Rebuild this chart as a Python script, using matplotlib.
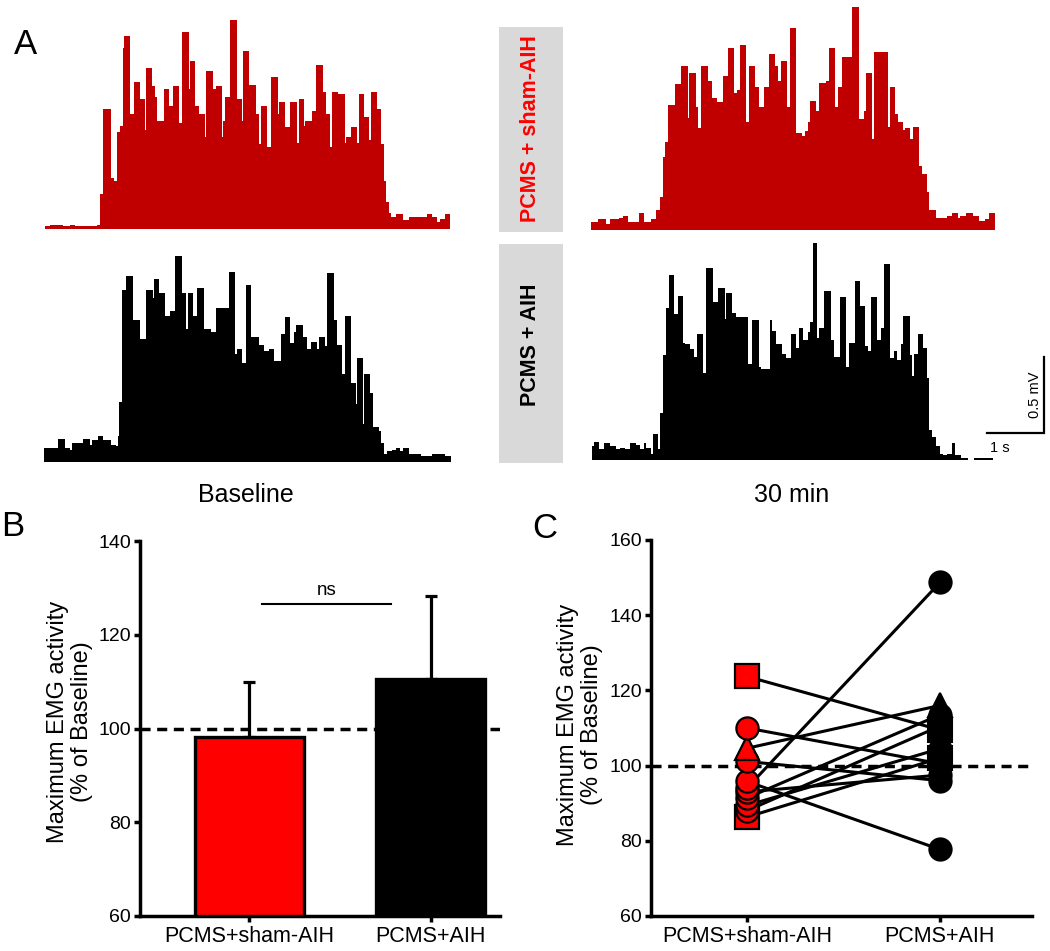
import matplotlib
matplotlib.use("Agg")
import matplotlib.pyplot as plt
from matplotlib.patches import Rectangle

plt.rcParams['font.family'] = ['Liberation Sans', 'DejaVu Sans']

# ---------------- data ----------------
# EMG traces: step edges (s) and bin amplitudes (mV)
sham_base_t = [0, 0.09, 0.32, 0.43, 0.53, 0.91, 0.97, 1.02, 1.15, 1.21, 1.27, 1.32, 1.36, 1.39, 1.49,
               1.56, 1.67, 1.76, 1.78, 1.88, 1.93, 1.97, 2.08, 2.18, 2.24, 2.35, 2.40, 2.52, 2.54, 2.64,
               2.70, 2.81, 2.83, 2.94, 3.00, 3.11, 3.13, 3.16, 3.25, 3.36, 3.45, 3.47, 3.58, 3.70, 3.75,
               3.79, 3.90, 3.97, 4.08, 4.11, 4.21, 4.30, 4.42, 4.45, 4.55, 4.57, 4.68, 4.76, 4.88, 4.93,
               5.00, 5.03, 5.14, 5.27, 5.28, 5.37, 5.47, 5.50, 5.60, 5.69, 5.72, 5.82, 5.89, 5.94, 5.98,
               6.03, 6.07, 6.16, 6.28, 6.39, 6.70, 6.79, 6.87, 6.93, 7.01, 7.11]
sham_base_mv = [0.02, 0.03, 0.02, 0.03, 0.02, 0.03, 0.23, 0.79, 0.34, 0.32, 0.64, 0.68, 1.19, 1.27, 0.76,
                0.97, 0.86, 0.65, 1.06, 0.94, 0.87, 0.71, 0.92, 0.81, 0.94, 0.70, 1.30, 0.92, 1.11, 0.81,
                0.76, 0.61, 1.04, 0.92, 0.94, 0.61, 0.71, 0.87, 1.38, 0.86, 0.71, 1.17, 0.95, 0.76, 0.56,
                0.81, 0.54, 1.00, 0.76, 0.84, 0.67, 0.84, 0.57, 0.86, 0.68, 0.71, 0.78, 1.08, 0.90, 0.76,
                0.54, 0.90, 0.89, 0.57, 0.61, 0.67, 0.57, 0.89, 0.74, 0.59, 0.90, 0.79, 0.56, 0.32, 0.18,
                0.11, 0.08, 0.10, 0.06, 0.08, 0.10, 0.08, 0.05, 0.07, 0.10]

sham_30_t = [0, 0.12, 0.27, 0.34, 0.49, 0.56, 0.66, 0.84, 0.94, 1.05, 1.15, 1.22, 1.26, 1.30, 1.35,
             1.48, 1.59, 1.71, 1.73, 1.84, 1.88, 1.94, 2.05, 2.13, 2.21, 2.32, 2.40, 2.51, 2.57, 2.62,
             2.72, 2.78, 2.89, 2.95, 3.04, 3.12, 3.23, 3.28, 3.33, 3.44, 3.49, 3.61, 3.70, 3.76, 3.81,
             3.85, 3.95, 4.01, 4.12, 4.18, 4.29, 4.33, 4.41, 4.59, 4.71, 4.80, 4.83, 4.93, 4.97, 5.21,
             5.25, 5.34, 5.39, 5.48, 5.52, 5.60, 5.65, 5.76, 5.81, 5.90, 5.94, 6.06, 6.25, 6.34, 6.44,
             6.48, 6.59, 6.70, 6.81, 6.92, 6.99, 7.10]
sham_30_mv = [0.05, 0.07, 0.04, 0.07, 0.08, 0.09, 0.05, 0.11, 0.05, 0.07, 0.13, 0.22, 0.48, 0.58, 0.82,
              0.96, 1.08, 0.74, 1.03, 0.81, 0.67, 1.08, 0.98, 0.87, 0.84, 1.01, 1.20, 0.90, 0.92, 1.22,
              0.71, 1.08, 0.94, 0.81, 0.94, 1.16, 1.08, 0.98, 1.11, 0.81, 1.33, 0.64, 0.62, 0.65, 0.71,
              0.85, 0.78, 0.97, 0.98, 1.20, 0.81, 0.94, 1.14, 1.47, 0.73, 0.78, 1.03, 0.60, 1.17, 0.68,
              0.94, 0.76, 0.71, 0.66, 0.67, 0.60, 0.68, 0.42, 0.37, 0.25, 0.13, 0.08, 0.09, 0.11, 0.08,
              0.09, 0.11, 0.09, 0.06, 0.07, 0.11]

aih_base_t = [0, 0.25, 0.36, 0.46, 0.49, 0.59, 0.68, 0.80, 0.85, 0.94, 1.04, 1.17, 1.26, 1.29, 1.32,
              1.36, 1.44, 1.56, 1.68, 1.79, 1.91, 1.93, 2.02, 2.12, 2.21, 2.29, 2.42, 2.49, 2.52, 2.62,
              2.68, 2.80, 2.93, 3.02, 3.24, 3.35, 3.38, 3.47, 3.54, 3.63, 3.77, 3.86, 3.94, 4.04, 4.15,
              4.23, 4.32, 4.39, 4.42, 4.54, 4.62, 4.68, 4.79, 4.83, 4.93, 4.97, 5.09, 5.14, 5.22, 5.28,
              5.38, 5.48, 5.49, 5.59, 5.62, 5.72, 5.78, 5.87, 5.91, 5.96, 6.01, 6.10, 6.18, 6.24, 6.29,
              6.41, 6.61, 6.80, 7.04, 7.14]
aih_base_mv = [0.09, 0.15, 0.09, 0.08, 0.12, 0.12, 0.15, 0.11, 0.14, 0.17, 0.14, 0.11, 0.10, 0.17, 0.39,
               1.13, 1.22, 0.93, 0.81, 1.13, 1.08, 1.20, 1.11, 0.96, 0.99, 1.35, 1.11, 0.87, 1.11, 0.96,
               1.14, 0.87, 0.85, 1.01, 1.25, 0.71, 0.74, 0.65, 1.16, 0.82, 0.77, 0.73, 0.74, 0.66, 0.84,
               0.95, 0.78, 0.85, 0.90, 0.82, 0.74, 0.79, 0.74, 0.82, 0.76, 1.24, 0.93, 0.77, 0.58, 0.96,
               0.52, 0.38, 0.68, 0.25, 0.58, 0.45, 0.23, 0.20, 0.12, 0.05, 0.07, 0.08, 0.09, 0.07, 0.09,
               0.05, 0.04, 0.05, 0.04]

aih_30_t = [0, 0.04, 0.13, 0.22, 0.32, 0.43, 0.50, 0.59, 0.67, 0.78, 0.85, 0.91, 0.95, 1.04, 1.07,
            1.17, 1.20, 1.25, 1.30, 1.35, 1.45, 1.51, 1.61, 1.64, 1.73, 1.80, 1.84, 1.96, 2.01, 2.12,
            2.22, 2.34, 2.36, 2.46, 2.54, 2.75, 2.81, 2.93, 2.97, 3.12, 3.16, 3.24, 3.33, 3.40, 3.49,
            3.59, 3.63, 3.71, 3.79, 3.83, 3.88, 3.96, 3.99, 4.08, 4.19, 4.25, 4.36, 4.46, 4.52, 4.62,
            4.70, 4.80, 4.84, 4.90, 5.00, 5.08, 5.13, 5.24, 5.31, 5.35, 5.42, 5.47, 5.58, 5.62, 5.65,
            5.72, 5.82, 5.88, 5.91, 5.97, 6.04, 6.11, 6.17, 6.23, 6.32, 6.38, 6.48, 6.61, 6.70, 7.04]
aih_30_mv = [0.09, 0.12, 0.07, 0.11, 0.09, 0.07, 0.08, 0.07, 0.11, 0.10, 0.07, 0.11, 0.08, 0.04, 0.17,
             0.07, 0.31, 0.69, 1.00, 1.22, 0.96, 1.08, 0.77, 0.76, 0.73, 0.68, 0.83, 0.57, 1.26, 1.04,
             1.13, 0.93, 1.10, 0.97, 0.94, 0.63, 0.92, 0.61, 0.60, 0.92, 0.85, 0.76, 0.70, 0.67, 0.83,
             0.74, 0.87, 0.79, 0.84, 0.91, 1.43, 0.80, 0.87, 1.11, 0.79, 0.68, 1.07, 0.61, 0.77, 1.18,
             1.01, 0.75, 0.72, 1.07, 0.79, 0.87, 1.29, 0.67, 0.72, 0.66, 0.76, 0.95, 0.69, 0.55, 0.70,
             0.83, 0.74, 0.54, 0.20, 0.15, 0.09, 0.04, 0.03, 0.04, 0.11, 0.03, 0.01, 0.00, 0.01]

# panel B: group mean +/- SEM (% of baseline)
groups = ['PCMS+sham-AIH', 'PCMS+AIH']
group_mean = [98.2, 110.6]
group_sem = [11.7, 17.7]

# panel C: individual animals (% of baseline)
indiv_sham = [123.7, 110.0, 104.6, 101.1, 95.8, 94.0, 93.0, 91.4, 89.4, 88.0, 86.3]
indiv_aih = [109.5, 100.5, 116.0, 96.0, 77.7, 148.7, 97.5, 113.5, 104.5, 110.5, 102.0]
indiv_marker = ['s', 'o', '^', 'o', 'o', 'o', 'o', 'o', 'o', 'o', 's']

DARKRED = '#c00000'
RED = '#ff0000'

W, H = 1050, 951
fig = plt.figure(figsize=(W / 100, H / 100), dpi=100)


def px_axes(left, top, width, height):
    return fig.add_axes([left / W, 1 - (top + height) / H, width / W, height / H])


# ---------------- panel A ----------------
S_PX, MV_PX = 57.0, 152.0   # 1 s and 1 mV in pixels (scale bar)
TMAX, VMAX = 7.15, 1.5
traces = [
    (sham_base_t, sham_base_mv, DARKRED, 45, 229.3),
    (sham_30_t, sham_30_mv, DARKRED, 590.7, 230),
    (aih_base_t, aih_base_mv, 'black', 44, 461.7),
    (aih_30_t, aih_30_mv, 'black', 591.7, 460),
]
trace_axes = []
for t, v, c, left, base in traces:
    ax = px_axes(left, base - VMAX * MV_PX, TMAX * S_PX, VMAX * MV_PX)
    ax.stairs(v, t, fill=True, color=c, linewidth=0)
    ax.set_xlim(0, TMAX)
    ax.set_ylim(0, VMAX)
    ax.axis('off')
    trace_axes.append(ax)

# scale bar on the last trace
axs = trace_axes[3]
axs.plot([6.93, 7.93, 7.93], [0.18, 0.18, 0.68], color='black', lw=1.6, clip_on=False,
         solid_joinstyle='miter')
axs.text(6.98, 0.08, '1 s', fontsize=10.5, ha='left', va='center', clip_on=False)
axs.text(7.77, 0.43, '0.5 mV', fontsize=10.5, rotation=90, ha='center', va='center', clip_on=False)

# group label boxes
for (top, bot, ytxt, label, col) in [(27, 232, 129, 'PCMS + sham-AIH', RED),
                                      (244, 463, 345, 'PCMS + AIH', 'black')]:
    fig.add_artist(Rectangle((499 / W, 1 - bot / H), 64 / W, (bot - top) / H,
                             transform=fig.transFigure, facecolor='#d9d9d9', edgecolor='none'))
    fig.text(531 / W, 1 - ytxt / H, label, rotation=90, color=col, fontsize=15.5,
             fontweight='bold', ha='center', va='center')

fig.text(246 / W, 1 - 495 / H, 'Baseline', fontsize=18, ha='center', va='center')
fig.text(792 / W, 1 - 495 / H, '30 min', fontsize=18, ha='center', va='center')
fig.text(25 / W, 1 - 45 / H, 'A', fontsize=25, ha='center', va='center')
fig.text(13 / W, 1 - 527 / H, 'B', fontsize=25, ha='center', va='center')
fig.text(545 / W, 1 - 529 / H, 'C', fontsize=25, ha='center', va='center')


def style_axes(ax):
    for s in ['top', 'right']:
        ax.spines[s].set_visible(False)
    for s in ['left', 'bottom']:
        ax.spines[s].set_linewidth(2.5)
    ax.tick_params(axis='both', width=2.5, length=4.5, direction='out')
    ax.tick_params(axis='y', labelsize=14, pad=2)
    ax.tick_params(axis='x', labelsize=15.5, pad=3)


# ---------------- panel B ----------------
axb = px_axes(140, 541, 360, 375)
xb = [0, 1]
axb.errorbar(xb, group_mean, yerr=[[0, 0], group_sem], fmt='none', ecolor='black',
             elinewidth=2.3, capsize=4.3, capthick=2.3, zorder=2)
axb.bar(xb, [m - 60 for m in group_mean], bottom=60, width=0.6, color=[RED, 'black'],
        edgecolor='black', linewidth=2.4, zorder=3)
axb.axhline(100, color='black', lw=2.5, dashes=(2.9, 1.9), zorder=4)
axb.plot([0.07, 0.78], [126.6, 126.6], color='black', lw=1.5)
axb.text(0.425, 129.4, 'ns', fontsize=13.5, ha='center', va='center')
axb.set_xlim(-0.6, 1.38)
axb.set_ylim(60, 140)
axb.set_yticks([60, 80, 100, 120, 140])
axb.set_xticks(xb)
axb.set_xticklabels(groups)
style_axes(axb)
fig.text(70 / W, 1 - 722 / H, 'Maximum EMG activity\n(% of Baseline)', rotation=90,
         fontsize=17, ha='center', va='center', multialignment='center', linespacing=1.15)

# ---------------- panel C ----------------
axc = px_axes(651, 540, 381, 376)
axc.axhline(100, color='black', lw=2.5, dashes=(2.9, 1.9), zorder=1)
for s, a in zip(indiv_sham, indiv_aih):
    axc.plot([0, 1], [s, a], color='black', lw=2.2, zorder=2)
for s, a, m in zip(indiv_sham, indiv_aih, indiv_marker):
    ms = 16 if m == 'o' else 17
    axc.plot([1], [a], marker=m, ms=ms, mfc='black', mec='black', mew=1.5, ls='none', zorder=3)
for s, a, m in reversed(list(zip(indiv_sham, indiv_aih, indiv_marker))):
    ms = 16 if m == 'o' else 17
    axc.plot([0], [s], marker=m, ms=ms, mfc=RED, mec='black', mew=1.6, ls='none', zorder=4)
axc.set_xlim(-0.497, 1.477)
axc.set_ylim(60, 160)
axc.set_yticks([60, 80, 100, 120, 140, 160])
axc.set_xticks([0, 1])
axc.set_xticklabels(groups)
style_axes(axc)
fig.text(580 / W, 1 - 725 / H, 'Maximum EMG activity\n(% of Baseline)', rotation=90,
         fontsize=17, ha='center', va='center', multialignment='center', linespacing=1.15)

fig.savefig('out.png', dpi=100)
